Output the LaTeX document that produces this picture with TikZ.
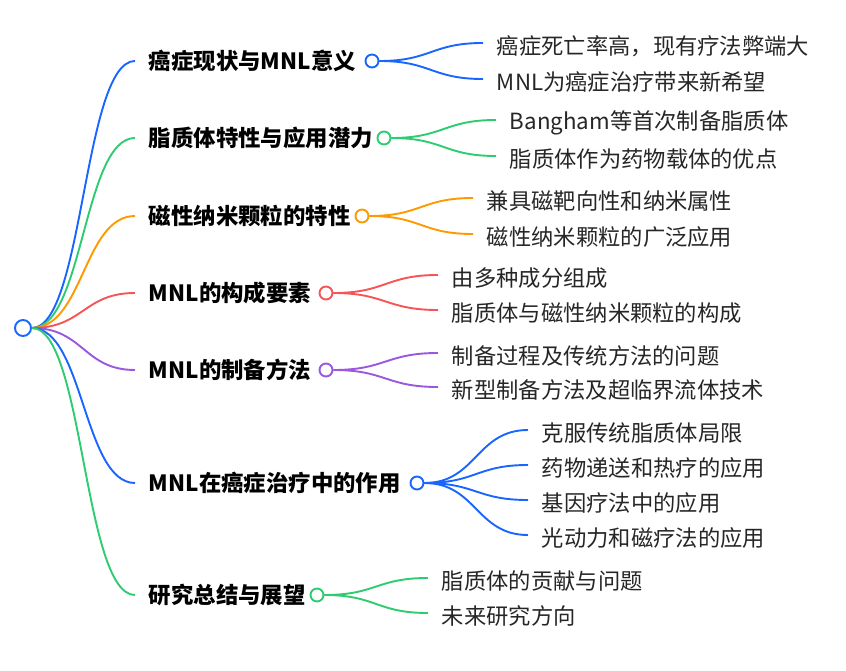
\documentclass[tikz,border=0pt]{standalone}
\usepackage{fontspec}
\setmainfont{Noto Sans CJK SC}
\usetikzlibrary{calc}
\definecolor{mapblue}{RGB}{24,102,255}
\definecolor{mapgreen}{RGB}{46,204,113}
\definecolor{maporange}{RGB}{255,153,0}
\definecolor{mapred}{RGB}{245,84,88}
\definecolor{mappurple}{RGB}{153,88,222}

\begin{document}
\begin{tikzpicture}[x=1pt, y=-1pt, line width=1.9pt,
    link/.style={to path={let \p1=(\tikztostart), \p2=(\tikztotarget) in
      .. controls ({0.5*\x1+0.5*\x2},\y1) and ({0.5*\x1+0.5*\x2},\y2) .. (\tikztotarget)}},
    topic/.style={anchor=west, inner xsep=13pt, inner ysep=0pt, font=\fontsize{22.4}{24}\selectfont\bfseries},
    leaf/.style={anchor=west, inner xsep=13pt, inner ysep=0pt, text=black!85, font=\fontsize{22.3}{24}\selectfont},
    dot/.style={circle, draw, fill=white, line width=1.9pt, inner sep=0pt, minimum size=13pt}]
    \useasboundingbox (0,0) rectangle (846,671);

    % root
    \node[dot, draw=mapblue, minimum size=16pt] (root) at (23,328) {};

    % first level
    \node[topic] (b1) at (135,61) {癌症现状与MNL意义};
    \node[topic] (b2) at (135,138) {脂质体特性与应用潜力};
    \node[topic] (b3) at (135,216) {磁性纳米颗粒的特性};
    \node[topic] (b4) at (135,293) {MNL的构成要素};
    \node[topic] (b5) at (135,370) {MNL的制备方法};
    \node[topic] (b6) at (135,483) {MNL在癌症治疗中的作用};
    \node[topic] (b7) at (135,595) {研究总结与展望};

    \node[dot, draw=mapblue] (c1) at (372,61) {};
    \node[dot, draw=mapgreen] (c2) at (384,138) {};
    \node[dot, draw=maporange] (c3) at (362,216) {};
    \node[dot, draw=mapred] (c4) at (326,293) {};
    \node[dot, draw=mappurple] (c5) at (326,370) {};
    \node[dot, draw=mapblue] (c6) at (417,483) {};
    \node[dot, draw=mapgreen] (c7) at (317,595) {};

    % leaves
    \node[leaf] (l11) at (483,46) {癌症死亡率高，现有疗法弊端大};
    \node[leaf] (l12) at (483,82) {MNL为癌症治疗带来新希望};
    \node[leaf] (l21) at (496,123) {Bangham等首次制备脂质体};
    \node[leaf] (l22) at (496,159) {脂质体作为药物载体的优点};
    \node[leaf] (l31) at (473,201) {兼具磁靶向性和纳米属性};
    \node[leaf] (l32) at (473,237) {磁性纳米颗粒的广泛应用};
    \node[leaf] (l41) at (438,278) {由多种成分组成};
    \node[leaf] (l42) at (438,313) {脂质体与磁性纳米颗粒的构成};
    \node[leaf] (l51) at (438,356) {制备过程及传统方法的问题};
    \node[leaf] (l52) at (438,390) {新型制备方法及超临界流体技术};
    \node[leaf] (l61) at (528,433) {克服传统脂质体局限};
    \node[leaf] (l62) at (528,468) {药物递送和热疗的应用};
    \node[leaf] (l63) at (528,503) {基因疗法中的应用};
    \node[leaf] (l64) at (528,538) {光动力和磁疗法的应用};
    \node[leaf] (l71) at (428,581) {脂质体的贡献与问题};
    \node[leaf] (l72) at (428,616) {未来研究方向};

    % connectors
    \draw[mapblue] (root.east) to[link] (b1.west);
    \draw[mapgreen] (root.east) to[link] (b2.west);
    \draw[maporange] (root.east) to[link] (b3.west);
    \draw[mapred] (root.east) to[link] (b4.west);
    \draw[mappurple] (root.east) to[link] (b5.west);
    \draw[mapblue] (root.east) to[link] (b6.west);
    \draw[mapgreen] (root.east) to[link] (b7.west);

    \draw[mapblue] (c1.east) to[link] ([yshift=3pt]l11.west);
    \draw[mapblue] (c1.east) to[link] ([yshift=3pt]l12.west);
    \draw[mapgreen] (c2.east) to[link] ([yshift=3pt]l21.west);
    \draw[mapgreen] (c2.east) to[link] ([yshift=3pt]l22.west);
    \draw[maporange] (c3.east) to[link] ([yshift=3pt]l31.west);
    \draw[maporange] (c3.east) to[link] ([yshift=3pt]l32.west);
    \draw[mapred] (c4.east) to[link] ([yshift=3pt]l41.west);
    \draw[mapred] (c4.east) to[link] ([yshift=3pt]l42.west);
    \draw[mappurple] (c5.east) to[link] ([yshift=3pt]l51.west);
    \draw[mappurple] (c5.east) to[link] ([yshift=3pt]l52.west);
    \draw[mapblue] (c6.east) to[link] ([yshift=3pt]l61.west);
    \draw[mapblue] (c6.east) to[link] ([yshift=3pt]l62.west);
    \draw[mapblue] (c6.east) to[link] ([yshift=3pt]l63.west);
    \draw[mapblue] (c6.east) to[link] ([yshift=3pt]l64.west);
    \draw[mapgreen] (c7.east) to[link] ([yshift=3pt]l71.west);
    \draw[mapgreen] (c7.east) to[link] ([yshift=3pt]l72.west);
\end{tikzpicture}
\end{document}
